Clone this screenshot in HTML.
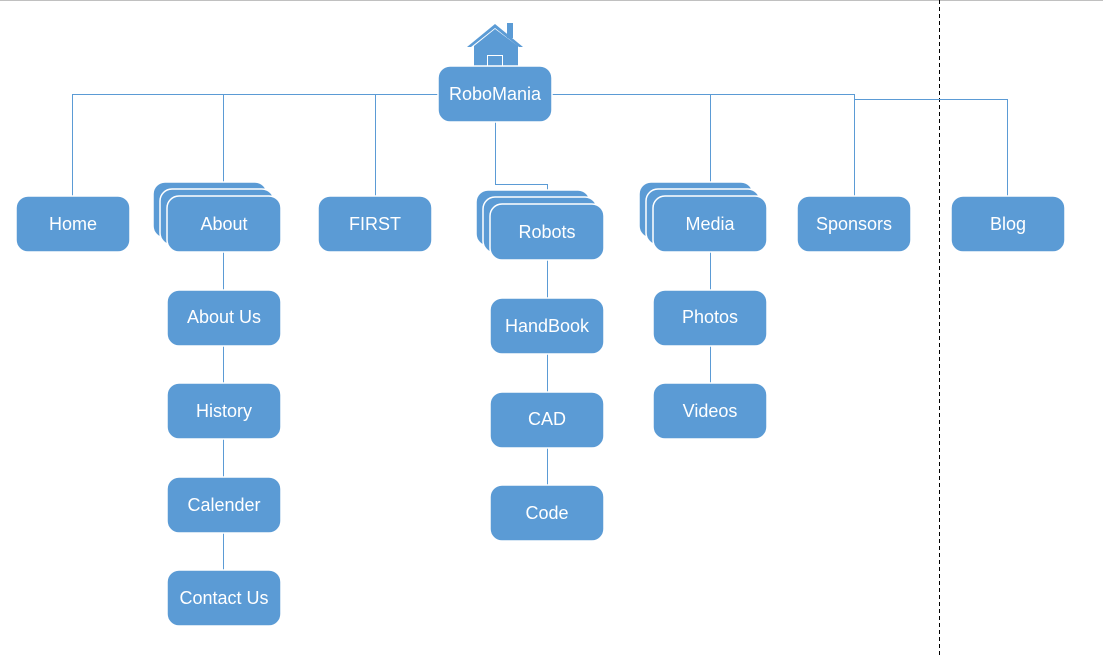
<!DOCTYPE html>
<html><head><meta charset="utf-8"><style>
html,body{margin:0;padding:0;background:#fff;}
svg{display:block;}
text{font-family:"Liberation Sans",sans-serif;font-size:18px;fill:#fff;text-anchor:middle;dominant-baseline:central;}
.b{fill:#5b9bd5;stroke:#fff;stroke-width:1.5;}
.l{stroke:#5b9bd5;stroke-width:1;fill:none;}
</style></head><body>
<svg width="1103" height="657" viewBox="0 0 1103 657">
<line x1="0" y1="0.5" x2="1103" y2="0.5" stroke="#c0c0c0" stroke-width="1"/>
<line x1="939.5" y1="0" x2="939.5" y2="657" stroke="#000" stroke-width="1" stroke-dasharray="4,3"/>
<path class="l" d="M72.5 196 V94.5 H854.5 V196"/>
<path class="l" d="M223.5 94.5 V196 M375.5 94.5 V196 M710.5 94.5 V196"/>
<path class="l" d="M854.5 99.5 H1007.5 V196"/>
<path class="l" d="M495.5 122 V184.5 H547.5 V204"/>
<path class="l" d="M223.5 252 V570 M547.5 260 V485 M710.5 252 V383"/>
<polygon points="467,47 495,24 523,47 519,47 495,28 471,47" fill="#5b9bd5"/>
<rect x="507" y="23" width="6" height="15" fill="#5b9bd5"/>
<polygon points="474,46 495,29 518,46 518,66 474,66" fill="#5b9bd5"/>
<rect x="487.5" y="55.5" width="15" height="11" fill="none" stroke="#fff" stroke-width="1"/>
<rect class="b" x="438" y="66" width="114" height="56" rx="12"/>
<text x="495" y="94">RoboMania</text>
<rect class="b" x="16" y="196" width="114" height="56" rx="12"/><text x="73" y="224">Home</text>
<rect class="b" x="153" y="182" width="114" height="56" rx="12"/>
<rect class="b" x="160" y="189" width="114" height="56" rx="12"/>
<rect class="b" x="167" y="196" width="114" height="56" rx="12"/><text x="224" y="224">About</text>
<rect class="b" x="318" y="196" width="114" height="56" rx="12"/><text x="375" y="224">FIRST</text>
<rect class="b" x="476" y="190" width="114" height="56" rx="12"/>
<rect class="b" x="483" y="197" width="114" height="56" rx="12"/>
<rect class="b" x="490" y="204" width="114" height="56" rx="12"/><text x="547" y="232">Robots</text>
<rect class="b" x="639" y="182" width="114" height="56" rx="12"/>
<rect class="b" x="646" y="189" width="114" height="56" rx="12"/>
<rect class="b" x="653" y="196" width="114" height="56" rx="12"/><text x="710" y="224">Media</text>
<rect class="b" x="797" y="196" width="114" height="56" rx="12"/><text x="854" y="224">Sponsors</text>
<rect class="b" x="951" y="196" width="114" height="56" rx="12"/><text x="1008" y="224">Blog</text>
<rect class="b" x="167" y="290" width="114" height="56" rx="12"/><text x="224" y="317">About Us</text>
<rect class="b" x="167" y="383" width="114" height="56" rx="12"/><text x="224" y="411">History</text>
<rect class="b" x="167" y="477" width="114" height="56" rx="12"/><text x="224" y="505">Calender</text>
<rect class="b" x="167" y="570" width="114" height="56" rx="12"/><text x="224" y="598">Contact Us</text>
<rect class="b" x="490" y="298" width="114" height="56" rx="12"/><text x="547" y="326">HandBook</text>
<rect class="b" x="490" y="392" width="114" height="56" rx="12"/><text x="547" y="419">CAD</text>
<rect class="b" x="490" y="485" width="114" height="56" rx="12"/><text x="547" y="513">Code</text>
<rect class="b" x="653" y="290" width="114" height="56" rx="12"/><text x="710" y="317">Photos</text>
<rect class="b" x="653" y="383" width="114" height="56" rx="12"/><text x="710" y="411">Videos</text>
</svg>
</body></html>
